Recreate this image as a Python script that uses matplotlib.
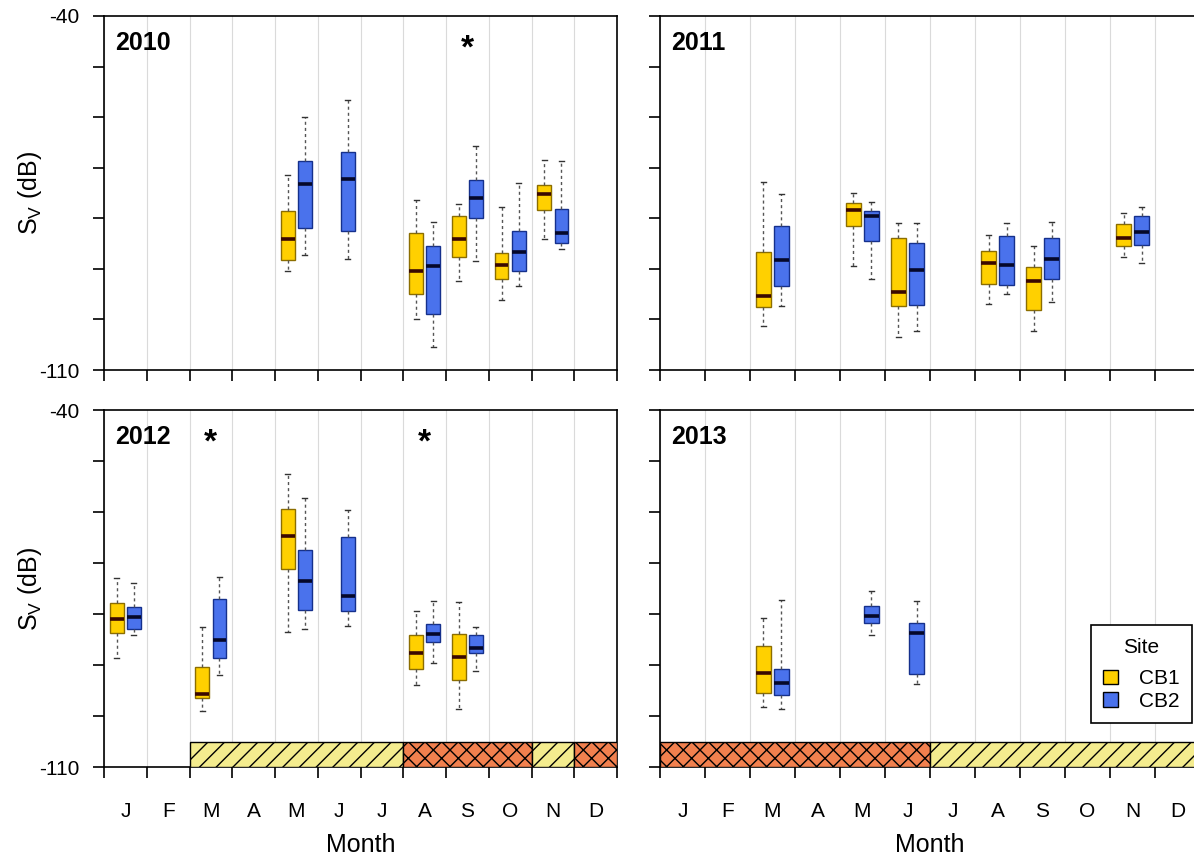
import numpy as np
import matplotlib.pyplot as plt
from matplotlib.patches import Patch

plt.rcParams['font.family'] = ['Liberation Sans', 'DejaVu Sans']
plt.rcParams['mathtext.fontset'] = 'custom'
plt.rcParams['mathtext.rm'] = 'Liberation Sans'
plt.rcParams['mathtext.it'] = 'Liberation Sans:italic'
plt.rcParams['hatch.linewidth'] = 1.0

month_labels = ['J', 'F', 'M', 'A', 'M', 'J', 'J', 'A', 'S', 'O', 'N', 'D']
years = [2010, 2011, 2012, 2013]

# month (1-12), lower whisker, q1, median, q3, upper whisker  [Sv, dB]
cb1_2010 = [
    (5, -90.4, -88.3, -84.1, -78.6, -71.5),
    (8, -100.0, -94.9, -90.4, -83.0, -76.3),
    (9, -92.4, -87.7, -84.0, -79.6, -77.1),
    (10, -96.2, -92.0, -89.3, -86.8, -77.8),
    (11, -84.1, -78.3, -75.1, -73.5, -68.5),
]
cb2_2010 = [
    (5, -87.2, -82.0, -73.3, -68.6, -60.0),
    (6, -88.1, -82.5, -72.3, -66.9, -56.6),
    (8, -105.5, -99.0, -89.5, -85.4, -80.7),
    (9, -88.5, -80.0, -76.0, -72.5, -65.7),
    (10, -93.4, -90.4, -86.6, -82.5, -73.0),
    (11, -86.0, -84.9, -83.0, -78.1, -68.7),
]
cb1_2011 = [
    (3, -101.3, -97.6, -95.3, -86.7, -72.8),
    (5, -89.4, -81.6, -78.3, -77.0, -75.0),
    (6, -103.4, -97.4, -94.5, -83.9, -80.9),
    (8, -97.0, -93.0, -88.8, -86.4, -83.3),
    (9, -102.3, -98.2, -92.5, -89.7, -85.5),
    (11, -87.6, -85.4, -83.9, -81.1, -78.9),
]
cb2_2011 = [
    (3, -97.4, -93.3, -88.3, -81.5, -75.1),
    (5, -92.1, -84.4, -79.6, -78.6, -76.7),
    (6, -102.3, -97.1, -90.2, -84.9, -80.9),
    (8, -95.0, -93.1, -89.3, -83.5, -80.9),
    (9, -96.5, -92.0, -88.1, -83.9, -80.8),
    (11, -88.8, -85.2, -82.8, -79.6, -77.7),
]
cb1_2012 = [
    (1, -88.6, -83.8, -81.0, -77.9, -73.0),
    (3, -99.0, -96.4, -95.6, -90.4, -82.5),
    (5, -83.6, -71.2, -64.7, -59.4, -52.6),
    (8, -94.0, -90.8, -87.6, -84.2, -79.4),
    (9, -98.7, -92.9, -88.5, -84.0, -77.7),
]
cb2_2012 = [
    (1, -84.2, -83.0, -80.6, -78.6, -74.0),
    (3, -92.0, -88.6, -85.1, -77.0, -72.8),
    (5, -82.9, -79.3, -73.6, -67.5, -57.2),
    (6, -82.3, -79.4, -76.4, -64.9, -59.6),
    (8, -89.7, -85.5, -84.0, -81.9, -77.5),
    (9, -91.2, -87.6, -86.6, -84.2, -82.5),
]
cb1_2013 = [
    (3, -98.2, -95.4, -91.6, -86.3, -80.8),
]
cb2_2013 = [
    (3, -98.6, -95.8, -93.6, -90.7, -77.2),
    (5, -84.2, -81.7, -80.4, -78.4, -75.5),
    (6, -93.8, -91.7, -83.7, -81.7, -77.5),
]

# months with a significant CB1/CB2 difference
stars_2010 = [9]
stars_2011 = []
stars_2012 = [3, 8]
stars_2013 = []

# season bands: first month, last month, season type
seasons_2012 = [(3, 7, 'A'), (8, 10, 'B'), (11, 11, 'A'), (12, 12, 'B')]
seasons_2013 = [(1, 6, 'B'), (7, 12, 'A')]

cb1 = {2010: cb1_2010, 2011: cb1_2011, 2012: cb1_2012, 2013: cb1_2013}
cb2 = {2010: cb2_2010, 2011: cb2_2011, 2012: cb2_2012, 2013: cb2_2013}
stars = {2010: stars_2010, 2011: stars_2011, 2012: stars_2012, 2013: stars_2013}
seasons = {2012: seasons_2012, 2013: seasons_2013}

site_style = {
    'CB1': dict(face='#FFD000', edge='#8C6E00', med='#3A0800', offset=0.3),
    'CB2': dict(face='#4A72EC', edge='#15308C', med='#05082A', offset=0.7),
}
season_style = {
    'A': dict(color='#F4EC8E', hatch='//'),
    'B': dict(color='#F2804E', hatch='xx'),
}

W, H = 1194, 855
fig = plt.figure(figsize=(W / 100, H / 100), dpi=100)


def px_axes(x0, x1, y0, y1):
    return fig.add_axes([x0 / W, 1 - y1 / H, (x1 - x0) / W, (y1 - y0) / H])


axes = {
    2010: px_axes(104, 617, 16, 370),
    2011: px_axes(660, 1200, 16, 370),
    2012: px_axes(104, 617, 410, 767),
    2013: px_axes(660, 1200, 410, 767),
}


def draw_site(ax, rows, site):
    st = site_style[site]
    stats = [dict(whislo=r[1], q1=r[2], med=r[3], q3=r[4], whishi=r[5]) for r in rows]
    pos = [r[0] - 1 + st['offset'] for r in rows]
    ax.bxp(stats, positions=pos, widths=0.32, capwidths=0.12,
           showfliers=False, patch_artist=True, manage_ticks=False,
           boxprops=dict(facecolor=st['face'], edgecolor=st['edge'], lw=1.0),
           medianprops=dict(color=st['med'], lw=2.6, solid_capstyle='butt'),
           whiskerprops=dict(color='#555555', lw=1.0, linestyle=(0, (2.2, 2.2))),
           capprops=dict(color='#333333', lw=1.0),
           zorder=4)


for yr, ax in axes.items():
    left = yr in (2010, 2012)
    bottom = yr in (2012, 2013)

    ax.set_xlim(0, 12)
    ax.set_ylim(-110, -40)
    for sp in ax.spines.values():
        sp.set_linewidth(1.2)

    ax.set_xticks(np.arange(13))
    ax.set_xticklabels([])
    ax.set_xticks(np.arange(12) + 0.5, minor=True)
    ax.set_xticklabels(month_labels if bottom else [], minor=True)
    ax.tick_params(axis='x', which='major', direction='out', length=8, width=1.2)
    ax.tick_params(axis='x', which='minor', length=0, pad=25, labelsize=15)
    ax.grid(axis='x', which='major', color='#dadada', lw=0.8, zorder=0)
    ax.set_axisbelow(True)

    yt = np.arange(-110, -39, 10)
    ax.set_yticks(yt)
    if left:
        ax.set_yticklabels(['-110'] + [''] * 6 + ['-40'])
        ax.set_ylabel(r'S$_\mathrm{V}$ (dB)', fontsize=18)
        ax.yaxis.set_label_coords(-0.117, 0.5)
    else:
        ax.set_yticklabels([])
    ax.tick_params(axis='y', direction='out', length=8, width=1.2, pad=10,
                   labelsize=15)

    if bottom:
        ax.set_xlabel('Month', fontsize=18, labelpad=9)

    for start, end, kind in seasons.get(yr, []):
        ss = season_style[kind]
        ax.bar(start - 1, 5, width=end - start + 1, bottom=-110, align='edge',
               color=ss['color'], edgecolor='black', hatch=ss['hatch'],
               lw=1.0, zorder=3)

    draw_site(ax, cb1[yr], 'CB1')
    draw_site(ax, cb2[yr], 'CB2')

    for m in stars[yr]:
        ax.text(m - 0.5, -46.5, '*', fontsize=24, fontweight='bold',
                ha='center', va='center')

    ax.text(0.021, 0.924, str(yr), transform=ax.transAxes, fontsize=18,
            fontweight='bold', ha='left', va='center')

handles = [Patch(facecolor=site_style[s]['face'], edgecolor='black', lw=1.0, label=s)
           for s in ('CB1', 'CB2')]
leg = axes[2013].legend(handles=handles, title='Site', fontsize=15,
                        title_fontsize=15, loc='lower right',
                        bbox_to_anchor=(0.985, 0.123), borderaxespad=0,
                        frameon=True, fancybox=False, edgecolor='black',
                        framealpha=1, handlelength=0.7, handleheight=0.7,
                        handletextpad=1.0, labelspacing=0.15, borderpad=0.6)
leg.get_frame().set_linewidth(1.2)
# extra room between the legend title and its entries
leg._legend_box.sep = 9

fig.savefig('out.png', dpi=100)
